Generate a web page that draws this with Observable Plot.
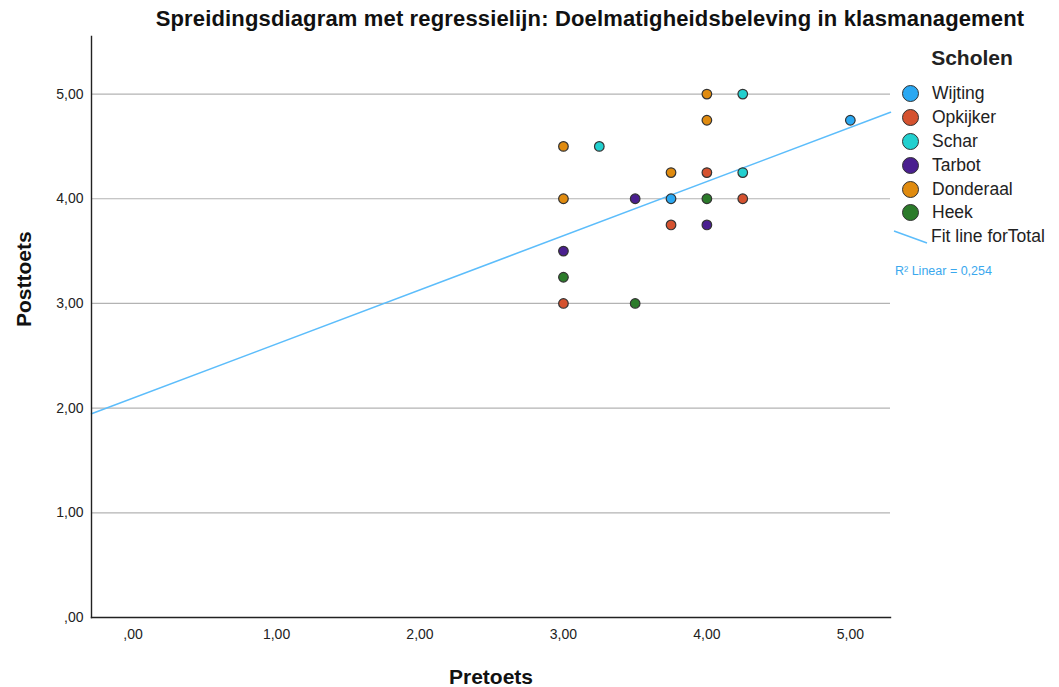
<!DOCTYPE html>
<html>
<head>
<meta charset="utf-8">
<script src="https://cdn.jsdelivr.net/npm/d3@7"></script>
<script src="https://cdn.jsdelivr.net/npm/@observablehq/plot@0.6"></script>
<style>
  html, body { margin: 0; padding: 0; background: #fff; }
  #wrap { position: relative; width: 1059px; height: 687px; font-family: "Liberation Sans", Arial, sans-serif; }
  #title { position: absolute; left: 0; width: 1180px; top: 6px; text-align: center; font-size: 22px; font-weight: bold; color: #111; letter-spacing: 0.15px; }
  #legend { position: absolute; left: 893px; top: 46px; width: 166px; color: #222; }
  #legend .lt { font-size: 21px; font-weight: bold; text-align: center; width: 158px; margin-bottom: 12px; }
  #legend .item { height: 23.8px; display: flex; align-items: center; font-size: 17.5px; }
  #legend .dot { width: 17px; height: 17px; border-radius: 50%; border: 1.5px solid #333; box-sizing: border-box; margin-left: 9px; margin-right: 13px; }
  #legend .fit { display: flex; align-items: center; font-size: 17.5px; height: 24px; }
  #legend .r2 { font-size: 12.5px; color: #3aa8ee; margin-top: 15px; margin-left: 2px; }
  svg { position: absolute; left: 0; top: 0; }
</style>
</head>
<body>
<div id="wrap">
  <div id="title">Spreidingsdiagram met regressielijn: Doelmatigheidsbeleving in klasmanagement</div>
</div>
<script>
// Data
const schools = ["Wijting", "Opkijker", "Schar", "Tarbot", "Donderaal", "Heek"];
const schoolColors = ["#2aa8f2", "#d5522f", "#22d0cf", "#4a1f8f", "#e08b0f", "#2b7b2a"];
const pointSchool = ["Donderaal","Schar","Donderaal","Wijting","Donderaal","Schar","Donderaal","Opkijker","Schar","Donderaal","Tarbot","Wijting","Heek","Opkijker","Opkijker","Tarbot","Tarbot","Heek","Opkijker","Heek"];
const pretoets   = [4.00, 4.25, 4.00, 5.00, 3.00, 3.25, 3.75, 4.00, 4.25, 3.00, 3.50, 3.75, 4.00, 4.25, 3.75, 4.00, 3.00, 3.00, 3.00, 3.50];
const posttoets  = [5.00, 5.00, 4.75, 4.75, 4.50, 4.50, 4.25, 4.25, 4.25, 4.00, 4.00, 4.00, 4.00, 4.00, 3.75, 3.75, 3.50, 3.25, 3.00, 3.00];
const xTicks = [0, 1, 2, 3, 4, 5];
const yTicks = [0, 1, 2, 3, 4, 5];
const gridTicks = [1, 2, 3, 4, 5];
const fitIntercept = 2.096;
const fitSlope = 0.517;
const r2Label = "R² Linear = 0,254";

const xDomain = [-0.29, 5.28];
const yDomain = [0, 5.55];

const points = pretoets.map((x, i) => ({x, y: posttoets[i], school: pointSchool[i]}));
const fitLine = xDomain.map(x => ({x, y: fitIntercept + fitSlope * x}));
const fmt = d => d3.format(".2f")(d).replace(".", ",").replace(/^0,/, ",");

const plot = Plot.plot({
  width: 1059,
  height: 687,
  marginLeft: 91,
  marginRight: 169,
  marginTop: 36,
  marginBottom: 70,
  style: {fontFamily: "Liberation Sans, Arial, sans-serif", background: "transparent"},
  x: {domain: xDomain, ticks: xTicks, tickFormat: fmt, label: null},
  y: {domain: yDomain, ticks: yTicks, tickFormat: fmt, label: null},
  color: {domain: schools, range: schoolColors},
  marks: [
    Plot.ruleY(gridTicks, {stroke: "#b3b3b3", strokeWidth: 1.2}),
    Plot.line(fitLine, {x: "x", y: "y", stroke: "#5cbdfb", strokeWidth: 1.5}),
    Plot.dot(points, {x: "x", y: "y", fill: "school", stroke: "#333", strokeWidth: 1.2, r: 4.8}),
    Plot.axisX(xTicks, {tickSize: 0, tickPadding: 12, fontSize: 14, fill: "#222", tickFormat: fmt}),
    Plot.axisY(yTicks, {tickSize: 0, tickPadding: 8, fontSize: 14, fill: "#222", tickFormat: fmt}),
    Plot.frame({anchor: "left", stroke: "#222", strokeWidth: 1.4}),
    Plot.frame({anchor: "bottom", stroke: "#222", strokeWidth: 1.4}),
    Plot.text(["Pretoets"], {frameAnchor: "bottom", dy: 66, fontSize: 21, fontWeight: "bold", fill: "#111"}),
    Plot.text(["Posttoets"], {frameAnchor: "left", dx: -67, rotate: -90, fontSize: 21, fontWeight: "bold", fill: "#111"})
  ]
});
const wrap = document.getElementById("wrap");
wrap.insertBefore(plot, wrap.firstChild);

// Legend
const lg = document.createElement("div");
lg.id = "legend";
let html = `<div class="lt">Scholen</div>`;
schools.forEach((s, i) => {
  html += `<div class="item"><span class="dot" style="background:${schoolColors[i]}"></span>${s}</div>`;
});
html += `<div class="fit"><svg width="36" height="16" style="position:relative;margin-right:2px"><line x1="1" y1="2" x2="34" y2="14" stroke="#5cbdfb" stroke-width="1.5"/></svg>Fit line forTotal</div>`;
html += `<div class="r2">${r2Label}</div>`;
lg.innerHTML = html;
wrap.appendChild(lg);
</script>
</body>
</html>
